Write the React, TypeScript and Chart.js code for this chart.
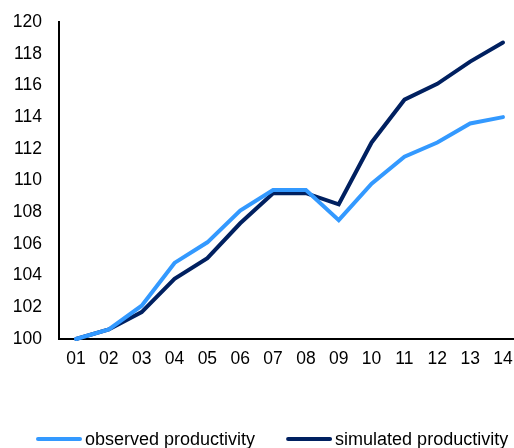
import React, { useEffect, useRef } from "react";
import { Chart, registerables } from "chart.js";

Chart.register(...registerables);

const categories = ["01", "02", "03", "04", "05", "06", "07", "08", "09", "10", "11", "12", "13", "14"];
const observed = [100, 100.6, 102.1, 104.8, 106.1, 108.1, 109.4, 109.4, 107.5, 109.8, 111.5, 112.4, 113.6, 114.0];
const simulated = [100, 100.6, 101.7, 103.8, 105.1, 107.3, 109.2, 109.2, 108.5, 112.4, 115.1, 116.1, 117.5, 118.7];
const seriesLabels = ["observed productivity", "simulated productivity"];
const seriesColors = ["#3399ff", "#002060"];
const yMin = 100;
const yMax = 120;
const yStep = 2;

const FONT_FAMILY = "'Liberation Sans', Arial, sans-serif";

const legendPlugin = {
  id: "customLegend",
  afterDraw(chart: any) {
    const ctx = chart.ctx;
    ctx.save();
    ctx.font = `18px ${FONT_FAMILY}`;
    ctx.textBaseline = "middle";
    ctx.textAlign = "left";
    let x = 36;
    const y = 439;
    chart.data.datasets.forEach((ds: any) => {
      ctx.strokeStyle = ds.borderColor;
      ctx.lineWidth = 4;
      ctx.lineCap = "round";
      ctx.beginPath();
      ctx.moveTo(x + 2, y);
      ctx.lineTo(x + 44, y);
      ctx.stroke();
      x += 49;
      ctx.fillStyle = "#000";
      ctx.fillText(ds.label, x, y + 1);
      x += ctx.measureText(ds.label).width + 31;
    });
    ctx.restore();
  },
};

export default function App() {
  const canvasRef = useRef<HTMLCanvasElement | null>(null);

  useEffect(() => {
    if (!canvasRef.current) return;
    const toPoints = (vals: number[]) => vals.map((v, i) => ({ x: i + 1, y: v }));
    const chart = new Chart(canvasRef.current, {
      type: "line",
      data: {
        datasets: [
          {
            label: seriesLabels[0],
            data: toPoints(observed),
            borderColor: seriesColors[0],
            backgroundColor: seriesColors[0],
            borderWidth: 4,
            pointRadius: 0,
            tension: 0,
            borderCapStyle: "round",
            clip: false,
          },
          {
            label: seriesLabels[1],
            data: toPoints(simulated),
            borderColor: seriesColors[1],
            backgroundColor: seriesColors[1],
            borderWidth: 4,
            pointRadius: 0,
            tension: 0,
            borderCapStyle: "round",
            clip: false,
          },
        ],
      },
      options: {
        animation: false,
        responsive: true,
        maintainAspectRatio: false,
        layout: { padding: { top: 22, left: 0, right: 0, bottom: 78 } },
        plugins: {
          legend: { display: false },
          tooltip: { enabled: false },
        },
        scales: {
          x: {
            type: "linear",
            min: 0.483,
            max: 14.335,
            grid: { display: false, drawTicks: false },
            border: { display: true, color: "#000", width: 2 },
            afterFit: (scale: any) => {
              scale.paddingLeft = 0;
              scale.paddingRight = 0;
              scale.height = 31;
            },
            ticks: {
              stepSize: 1,
              includeBounds: false,
              autoSkip: false,
              maxRotation: 0,
              minRotation: 0,
              padding: 10,
              color: "#000",
              font: { size: 17.5, family: FONT_FAMILY },
              callback: (v: any) => {
                const idx = Math.round(Number(v)) - 1;
                return Math.abs(Number(v) - Math.round(Number(v))) < 1e-6 && categories[idx] ? categories[idx] : "";
              },
            },
          },
          y: {
            min: yMin,
            max: yMax,
            grid: { display: false, drawTicks: false },
            border: { display: true, color: "#000", width: 2 },
            afterFit: (scale: any) => {
              scale.width = 59;
              scale.paddingTop = 0;
              scale.paddingBottom = 0;
            },
            ticks: {
              stepSize: yStep,
              padding: 17,
              color: "#000",
              font: { size: 17.5, family: FONT_FAMILY },
            },
          },
        },
      },
      plugins: [legendPlugin],
    });
    return () => chart.destroy();
  }, []);

  return (
    <div style={{ position: "absolute", left: 0, top: 0, width: 514, height: 448 }}>
      <canvas ref={canvasRef} />
    </div>
  );
}
